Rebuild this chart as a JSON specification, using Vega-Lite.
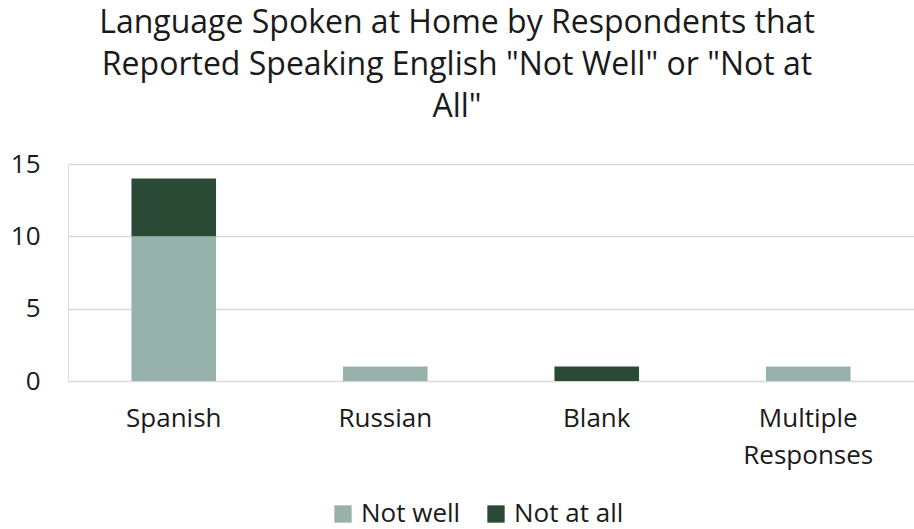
{
  "$schema": "https://vega.github.io/schema/vega-lite/v6.json",
  "autosize": {"type": "none"},
  "width": 846,
  "height": 217,
  "padding": {"left": 68, "top": 164, "right": 0, "bottom": 148},
  "background": "white",
  "title": {
    "text": ["Language Spoken at Home by Respondents that", "Reported Speaking English \"Not Well\" or \"Not at", "All\""],
    "fontSize": 32,
    "font": "Open Sans",
    "fontWeight": "normal",
    "color": "#1a1a1a",
    "lineHeight": 42,
    "anchor": "middle",
    "dx": -34,
    "offset": 27
  },
  "data": {
    "values": [
      {"language": "Spanish", "response": "Not well", "count": 10},
      {"language": "Spanish", "response": "Not at all", "count": 4},
      {"language": "Russian", "response": "Not well", "count": 1},
      {"language": "Russian", "response": "Not at all", "count": 0},
      {"language": "Blank", "response": "Not well", "count": 0},
      {"language": "Blank", "response": "Not at all", "count": 1},
      {"language": "Multiple Responses", "response": "Not well", "count": 1},
      {"language": "Multiple Responses", "response": "Not at all", "count": 0}
    ]
  },
  "mark": {"type": "bar"},
  "encoding": {
    "x": {
      "field": "language",
      "type": "nominal",
      "sort": ["Spanish", "Russian", "Blank", "Multiple Responses"],
      "scale": {"paddingInner": 0.6, "paddingOuter": 0.3},
      "axis": {
        "title": null,
        "labelAngle": 0,
        "labelFontSize": 26,
        "labelFont": "Open Sans",
        "labelColor": "#1a1a1a",
        "labelPadding": 24,
        "labelLineHeight": 37,
        "ticks": false,
        "domain": false,
        "labelExpr": "datum.label == 'Multiple Responses' ? ['Multiple', 'Responses'] : datum.label"
      }
    },
    "y": {
      "field": "count",
      "type": "quantitative",
      "stack": "zero",
      "scale": {"domain": [0, 15]},
      "axis": {
        "title": null,
        "values": [0, 5, 10, 15],
        "labelFontSize": 26,
        "labelFont": "Open Sans",
        "labelColor": "#1a1a1a",
        "labelPadding": 28,
        "ticks": false,
        "domain": false,
        "gridColor": "#d9d9d9",
        "gridWidth": 1.5
      }
    },
    "color": {
      "field": "response",
      "type": "nominal",
      "sort": ["Not well", "Not at all"],
      "scale": {"domain": ["Not well", "Not at all"], "range": ["#97b1ab", "#2a4a36"]},
      "legend": {
        "title": null,
        "orient": "none",
        "direction": "horizontal",
        "legendX": 262,
        "legendY": 337,
        "symbolType": "square",
        "symbolSize": 300,
        "symbolStrokeWidth": 0,
        "labelFontSize": 26,
        "labelFont": "Open Sans",
        "labelColor": "#1a1a1a",
        "columnPadding": 22,
        "labelOffset": 5,
        "labelLimit": 300
      }
    },
    "order": {"field": "response", "sort": "descending"}
  }
}
